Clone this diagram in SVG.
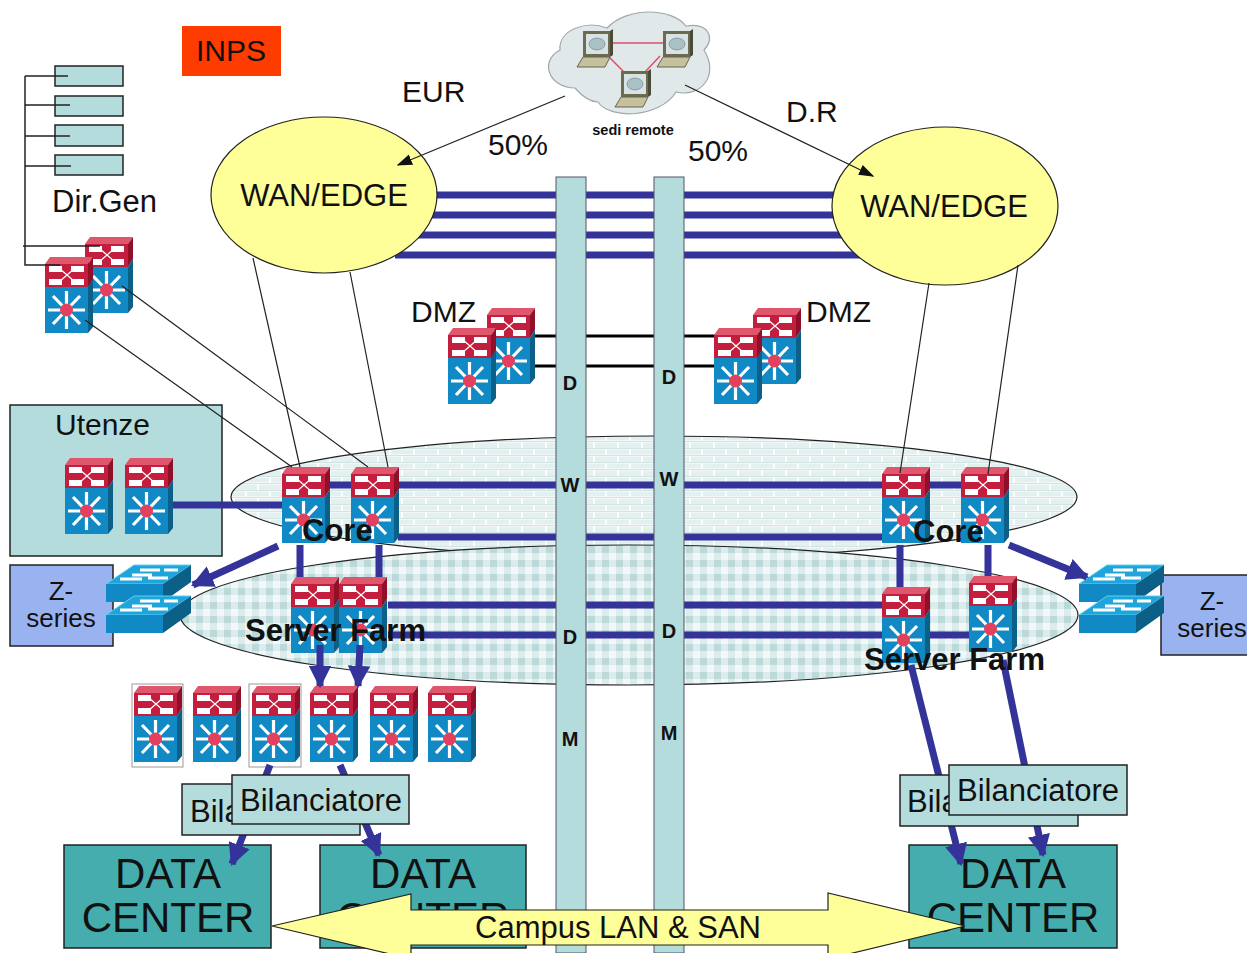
<svg xmlns="http://www.w3.org/2000/svg" width="1247" height="953" viewBox="0 0 1247 953">
<style>
text{font-family:"Liberation Sans",Arial,sans-serif;fill:#111}
.t30{font-size:30px}.t31{font-size:31px}.b{font-weight:bold;font-size:31px}.l{font-size:20px;font-weight:bold;text-anchor:middle}
.z{font-size:26px;text-anchor:middle}
.c{text-anchor:middle}
.box{stroke:#222;stroke-width:1.5}
.blue{stroke:#333399;stroke-width:7;fill:none}
.thin{stroke:#222;stroke-width:1.2;fill:none}
.tree{stroke:#222;stroke-width:1.5;fill:none}
.big{font-size:42px;text-anchor:middle}
</style>
<defs>
<pattern id="brick" width="24" height="14" patternUnits="userSpaceOnUse">
<rect width="24" height="14" fill="#e3f0f0"/>
<path d="M0 .5H24M0 7.500H24M6 0V7M18 7V14" stroke="#fff" stroke-width="1.800" fill="none"/>
<path d="M0 .5H24M0 7.500H24" stroke="#a9c9c9" stroke-width=".5"/>
</pattern>
<pattern id="check" width="14" height="14" patternUnits="userSpaceOnUse">
<rect width="14" height="14" fill="#dcecec"/>
<rect width="7" height="7" fill="#bcd9da"/><rect x="7" y="7" width="7" height="7" fill="#f2f8f8"/>
</pattern>
<marker id="ah" viewBox="0 0 10 10" refX="9" refY="5" markerWidth="3.200" markerHeight="3.200" orient="auto"><path d="M0 0L10 5L0 10Z" fill="#333399"/></marker>
<marker id="at" viewBox="0 0 10 10" refX="9" refY="5" markerWidth="13" markerHeight="13" orient="auto"><path d="M0 1.500L10 5L0 8.500Z" fill="#111"/></marker>
<g id="router">
<path d="M0 7L5 0H48L43 7Z" fill="#e0566c"/>
<path d="M43 7L48 0V22L43 30Z" fill="#8f1028"/>
<rect y="7" width="43" height="23" fill="#c41e3e"/>
<path d="M4 12H17M26 12H39M4 25H17M26 25H39" stroke="#fff" stroke-width="6"/>
<path d="M14 11L30 25M30 11L14 25" stroke="#fff" stroke-width="1.200"/>
<path d="M43 30L48 22V70L43 76Z" fill="#0c5f86"/>
<rect y="30" width="43" height="46" fill="#1189c4"/>
<path d="M21.500 34V72M3 53H40M8 39L35 67M35 39L8 67" stroke="#fff" stroke-width="3.200"/>
<circle cx="21.500" cy="53" r="6.500" fill="#e2405c"/>
</g>
<g id="switch">
<path d="M0 19L28 0H85L57 19Z" fill="#1fa4dc" stroke="#5fd0f0" stroke-width="1"/>
<path d="M57 19L85 0V17L57 37Z" fill="#0c5f86"/>
<rect y="19" width="57" height="18" fill="#1189c4"/>
<path d="M34 5H54M58 5H72M26 10H46M14 14H36M42 13H62" stroke="#fff" stroke-width="3"/>
</g>
<g id="pc">
<path d="M6 0H33V26H6Z" fill="#6b6b52"/><rect x="9" y="3" width="22" height="20" fill="#d8e4e4"/>
<ellipse cx="20" cy="13" rx="8" ry="6" fill="#a9c0c4" stroke="#667" stroke-width=".5"/>
<path d="M33 0L36 -2V24L33 26Z" fill="#4a4a38"/>
<path d="M6 26H33L28 36H0Z" fill="#c6c09c" stroke="#66664d" stroke-width="1"/>
</g>
</defs>

<g id="title"><rect x="182" y="26" width="99" height="50" fill="#ff3c00"/><text x="231" y="61" class="t30 c">INPS</text></g>

<g id="dirgen-units">
<rect class="box" x="55" y="66" width="68" height="20" fill="#b5dcdc"/>
<rect class="box" x="55" y="96" width="68" height="20" fill="#b5dcdc"/>
<rect class="box" x="55" y="125" width="68" height="21" fill="#b5dcdc"/>
<rect class="box" x="55" y="155" width="68" height="20" fill="#b5dcdc"/>
<text x="52" y="212" class="t31">Dir.Gen</text>
</g>

<g id="cloud">
<path d="M575 88C550 88 538 62 560 50C558 30 586 20 607 28C628 6 672 8 686 26C708 22 716 38 704 50C720 76 700 98 676 92C660 118 610 120 598 102C590 102 582 96 575 88Z" fill="#e0e8ea" stroke="#9fa8aa" stroke-width="1.200"/>
<path d="M608 43H664M608 56L624 72M660 56L645 72" stroke="#d8506a" stroke-width="1.500" fill="none"/>
<use href="#pc" x="577" y="31"/><use href="#pc" x="657" y="31"/><use href="#pc" x="615" y="71"/>
<text x="633" y="135" style="font-size:14.500px;font-weight:bold;text-anchor:middle">sedi remote</text>
</g>

<g id="campus-ellipses">
<ellipse id="core-zone" cx="654" cy="497" rx="423" ry="61" fill="url(#brick)" stroke="#222" stroke-width="1.200"/>
<ellipse id="farm-zone" cx="629" cy="615" rx="449" ry="70" fill="url(#check)" stroke="#222" stroke-width="1.200"/>
</g>

<g id="utenze-box"><rect class="box" x="10" y="405" width="212" height="151" fill="#b5dcdc"/><text x="55" y="435" class="t30">Utenze</text></g>

<g id="connectors">
<path class="blue" d="M400 195H860M400 215H860M400 235H860M395 255H860"/>
<path d="M535 336H753M535 366H753" stroke="#000" stroke-width="3" fill="none"/>
<path class="blue" d="M172 505H282M330 485H961M398 537H882M388 605H882M388 635H969M300 545V577M379 545V577M900 545V587M988 545V577"/>
</g>

<g id="wan-left"><ellipse cx="324" cy="195" rx="113" ry="78" fill="#ffff99" stroke="#222" stroke-width="1.200"/><text x="324" y="206" class="t31 c">WAN/EDGE</text></g>
<g id="wan-right"><ellipse cx="945" cy="206" rx="113" ry="79" fill="#ffff99" stroke="#222" stroke-width="1.200"/><text x="944" y="217" class="t31 c">WAN/EDGE</text></g>

<g id="labels"><text x="402" y="102" class="t30">EUR</text><text x="786" y="122" class="t30">D.R</text><text x="488" y="155" class="t30">50%</text><text x="688" y="161" class="t30">50%</text></g>

<g id="pillar-left"><rect x="556" y="177" width="30" height="776" fill="#b5dcdc" stroke="#556" stroke-width="1"/>
<text x="570" y="390" class="l">D</text><text x="570" y="492" class="l">W</text><text x="570" y="644" class="l">D</text><text x="570" y="746" class="l">M</text></g>
<g id="pillar-right"><rect x="654" y="177" width="30" height="776" fill="#b5dcdc" stroke="#556" stroke-width="1"/>
<text x="669" y="384" class="l">D</text><text x="669" y="486" class="l">W</text><text x="669" y="638" class="l">D</text><text x="669" y="740" class="l">M</text></g>

<g id="dirgen-routers"><use href="#router" x="85" y="237"/><use href="#router" x="45" y="257"/></g>
<g id="dmz-left"><use href="#router" x="487" y="308"/><use href="#router" x="448" y="328"/><text x="411" y="322" class="t30">DMZ</text></g>
<g id="dmz-right"><use href="#router" x="753" y="308"/><use href="#router" x="714" y="328"/><text x="806" y="322" class="t30">DMZ</text></g>
<g id="utenze-routers"><use href="#router" x="65" y="458"/><use href="#router" x="125" y="458"/></g>
<g id="core-left"><use href="#router" x="282" y="467"/><use href="#router" x="351" y="467"/></g>
<g id="core-right"><use href="#router" x="882" y="467"/><use href="#router" x="961" y="467"/></g>
<g id="farm-left"><use href="#router" x="291" y="577"/><use href="#router" x="339" y="577"/></g>
<g id="farm-right"><use href="#router" x="882" y="587"/><use href="#router" x="969" y="576"/></g>

<g id="zseries-left"><rect class="box" x="10" y="565" width="103" height="81" fill="#99b3f0"/><text x="61" y="600" class="z">Z-</text><text x="61" y="627" class="z">series</text>
<use href="#switch" x="106" y="565"/><use href="#switch" x="106" y="596"/></g>
<g id="zseries-right"><rect class="box" x="1161" y="575" width="90" height="80" fill="#99b3f0"/><text x="1212" y="610" class="z">Z-</text><text x="1212" y="637" class="z">series</text>
<use href="#switch" x="1079" y="565"/><use href="#switch" x="1079" y="596"/></g>

<g id="server-row">
<rect x="132" y="684" width="51" height="83" fill="#fff" stroke="#999"/><rect x="249" y="684" width="52" height="83" fill="#fff" stroke="#999"/>
<use href="#router" x="134" y="686"/><use href="#router" x="193" y="686"/><use href="#router" x="252" y="686"/><use href="#router" x="310" y="686"/><use href="#router" x="370" y="686"/><use href="#router" x="428" y="686"/>
</g>

<g id="dc-left"><rect class="box" x="64" y="845" width="207" height="103" fill="#45adad"/><text x="168" y="888" class="big">DATA</text><text x="168" y="932" class="big">CENTER</text></g>
<g id="dc-mid"><rect class="box" x="320" y="845" width="206" height="103" fill="#45adad"/><text x="423" y="888" class="big">DATA</text><text x="423" y="932" class="big">CENTER</text></g>
<g id="dc-right"><rect class="box" x="909" y="845" width="208" height="103" fill="#45adad"/><text x="1013" y="888" class="big">DATA</text><text x="1013" y="932" class="big">CENTER</text></g>

<g id="connectors-front">
<path class="blue" marker-end="url(#ah)" d="M278 546L193 585"/>
<path class="blue" marker-end="url(#ah)" d="M1009 545L1087 577"/>
<path class="blue" marker-end="url(#ah)" d="M320 645V686"/>
<path class="blue" marker-end="url(#ah)" d="M360 645L358 686"/>
<path class="blue" marker-end="url(#ah)" d="M270 765L232 864"/>
<path class="blue" marker-end="url(#ah)" d="M340 765L379 855"/>
<path class="blue" marker-end="url(#ah)" d="M911 665L961 864"/>
<path class="blue" marker-end="url(#ah)" d="M1003 660L1043 855"/>
<path class="thin" marker-end="url(#at)" d="M565 96L398 165"/>
<path class="thin" marker-end="url(#at)" d="M685 85L873 176"/>
<path class="thin" d="M253 258L300 467M350 272L388 467M929 283L900 473M1018 265L988 474M122 286L368 467M85 320L292 467"/>
<path class="tree" d="M25 76V265H60M23 246H100M25 76H68M25 105H70M25 136H70M25 166H71"/>
</g>

<g id="zone-labels"><text x="302" y="541" class="b">Core</text><text x="913" y="542" class="b">Core</text><text x="245" y="641" class="b">Server Farm</text><text x="864" y="670" class="b">Server Farm</text></g>

<g id="bil-left"><rect class="box" x="182" y="784" width="178" height="51" fill="#b5dcdc"/><text x="190" y="822" class="t31">Bila</text>
<rect class="box" x="232" y="775" width="177" height="49" fill="#b5dcdc"/><text x="240" y="811" class="t31">Bilanciatore</text></g>
<g id="bil-right"><rect class="box" x="900" y="775" width="178" height="51" fill="#b5dcdc"/><text x="907" y="812" class="t31">Bila</text>
<rect class="box" x="949" y="765" width="178" height="50" fill="#b5dcdc"/><text x="957" y="801" class="t31">Bilanciatore</text></g>

<g id="campus-arrow"><path d="M272 926L411 894V910H828V893L965 926L828 959V945H411V959Z" fill="#ffff99" stroke="#222" stroke-width="1.200"/><text x="618" y="938" class="t31 c">Campus LAN &amp; SAN</text></g>
</svg>
